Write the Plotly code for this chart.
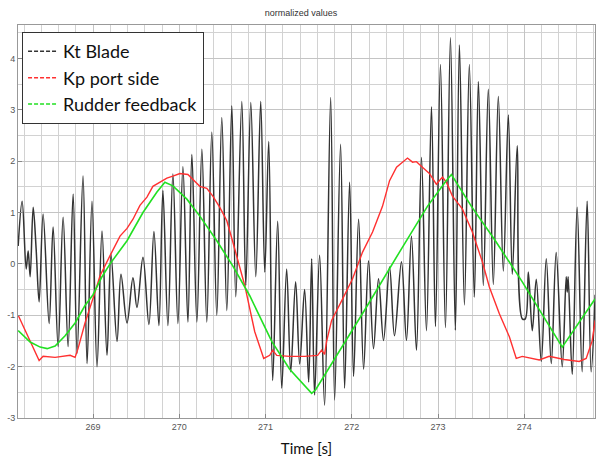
import plotly.graph_objects as go

# Kt Blade: successive turning points of the blade signal (time [s], normalized value)
kt_time = [
    268.132, 268.178, 268.225, 268.248, 268.271, 268.306, 268.340, 268.375, 268.421,
    268.491, 268.537, 268.595, 268.653, 268.711, 268.769, 268.815, 268.884, 268.931,
    268.988, 269.046, 269.104, 269.162, 269.208, 269.278, 269.324, 269.394, 269.463,
    269.509, 269.579, 269.648, 269.706, 269.764, 269.810, 269.868, 269.926, 269.984,
    270.042, 270.100, 270.146, 270.204, 270.262, 270.319, 270.377, 270.435, 270.493,
    270.551, 270.609, 270.655, 270.725, 270.771, 270.829, 270.887, 270.944, 270.991,
    271.037, 271.083, 271.141, 271.188, 271.245, 271.292, 271.349, 271.396, 271.453,
    271.500, 271.535, 271.569, 271.627, 271.685, 271.755, 271.801, 271.870, 271.917,
    271.975, 272.021, 272.079, 272.137, 272.194, 272.252, 272.310, 272.368, 272.438,
    272.495, 272.576, 272.634, 272.692, 272.750, 272.808, 272.866, 272.924, 272.970,
    273.028, 273.086, 273.144, 273.201, 273.248, 273.306, 273.363, 273.421, 273.468,
    273.525, 273.583, 273.641, 273.699, 273.757, 273.815, 273.861, 273.919, 273.977,
    274.012, 274.047, 274.093, 274.139, 274.197, 274.255, 274.313, 274.370, 274.440,
    274.486, 274.498, 274.509, 274.556, 274.613, 274.671, 274.729, 274.775, 274.822,
]
kt_value = [
    0.35, 1.22, -0.10, 0.25, -0.25, 1.10, 0.30, -0.74, 0.97,
    -1.16, 0.72, -1.61, 0.91, -1.61, 1.36, -1.74, 1.71, -1.94,
    1.22, -2.00, 0.64, -1.78, 0.19, -1.51, -0.20, -1.15, -0.27,
    -0.85, 0.13, -1.18, 0.63, -1.20, 1.43, -1.20, 1.75, -1.16,
    1.89, -1.13, 2.13, -1.13, 2.23, -1.13, 2.56, -1.00, 2.85,
    -0.91, 3.08, -0.64, 3.16, -0.42, 3.14, -0.25, 3.16, -0.16,
    2.38, -2.27, 0.83, -2.42, -0.10, -2.10, -0.35, -1.95, -0.50,
    -2.30, 0.10, -2.55, 0.17, -2.75, 3.24, -2.65, 2.33, -2.42,
    1.59, -2.19, 0.87, -2.05, 0.06, -1.65, -0.29, -1.49, -0.06,
    -1.40, 0.04, -1.49, 0.54, -1.68, 2.07, -1.30, 3.06, -1.22,
    3.88, -1.24, 4.40, -1.29, 4.26, -0.80, 3.88, -0.65, 3.55,
    -0.42, 3.40, -0.40, 3.26, -0.14, 2.90, -0.20, 2.30, -1.07,
    -1.07, -0.16, -1.30, -0.30, -1.90, 0.10, -1.94, 0.22, -2.00,
    -0.25, -0.55, -0.25, -2.15, 1.10, -2.10, 1.22, -2.10, -0.60,
]

# Kp port side
kp_time = [
    268.132, 268.375, 268.421, 268.560, 268.734, 268.792, 268.826, 268.907, 269.023,
    269.081, 269.197, 269.313, 269.394, 269.463, 269.544, 269.625, 269.694, 269.775,
    269.856, 269.926, 270.007, 270.100, 270.157, 270.238, 270.319, 270.389, 270.470,
    270.551, 270.620, 270.701, 270.759, 270.875, 270.979, 271.049, 271.083, 271.130,
    271.280, 271.454, 271.604, 271.650, 271.685, 271.708, 271.766, 271.894, 272.009,
    272.125, 272.241, 272.356, 272.438, 272.519, 272.588, 272.646, 272.704, 272.750,
    272.819, 272.900, 272.981, 273.051, 273.097, 273.167, 273.282, 273.398, 273.514,
    273.595, 273.711, 273.827, 273.907, 273.977, 274.174, 274.289, 274.463, 274.637,
    274.718, 274.787, 274.822,
]
kp_value = [
    -1.00, -1.88, -1.80, -1.82, -1.78, -1.82, -1.65, -1.15, -0.55,
    -0.23, 0.16, 0.54, 0.69, 0.87, 1.14, 1.30, 1.51, 1.59,
    1.67, 1.71, 1.76, 1.74, 1.65, 1.51, 1.47, 1.32, 1.10,
    0.84, 0.43, -0.04, -0.42, -1.32, -1.84, -1.78, -1.68, -1.78,
    -1.80, -1.80, -1.78, -1.68, -1.76, -1.51, -1.10, -0.68, -0.29,
    0.23, 0.62, 1.12, 1.62, 1.88, 1.98, 2.06, 1.98, 1.99,
    1.88, 1.76, 1.55, 1.69, 1.59, 1.32, 1.07, 0.62, 0.04,
    -0.45, -0.97, -1.42, -1.84, -1.80, -1.87, -1.80, -1.86, -1.90,
    -1.84, -1.50, -1.10,
]

# Rudder feedback
rudder_time = [
    268.132, 268.271, 268.387, 268.468, 268.560, 268.676, 268.792, 268.907, 269.000,
    269.104, 269.197, 269.394, 269.579, 269.741, 269.833, 269.926, 270.088, 270.238,
    270.435, 270.620, 270.817, 271.072, 271.280, 271.396, 271.535, 271.581, 271.859,
    272.171, 272.553, 272.877, 273.086, 273.155, 273.387, 273.653, 273.977, 274.231,
    274.440, 274.822,
]
rudder_value = [
    -1.30, -1.52, -1.62, -1.65, -1.60, -1.40, -1.15, -0.81, -0.60,
    -0.25, 0.00, 0.45, 1.00, 1.40, 1.59, 1.52, 1.26, 0.93,
    0.45, -0.04, -0.62, -1.51, -2.05, -2.27, -2.52, -2.45, -1.70,
    -0.84, 0.23, 1.12, 1.60, 1.74, 1.12, 0.48, -0.35, -1.05,
    -1.62, -0.68,
]

series_names = ["Kt Blade", "Kp port side", "Rudder feedback"]
series_colors = ["#333333", "#ff3030", "#22e022"]

x_ticks = [269, 270, 271, 272, 273, 274]
y_ticks = [-3, -2, -1, 0, 1, 2, 3, 4]

fig = go.Figure()

fig.add_trace(go.Scatter(
    x=kt_time, y=kt_value, mode="lines", showlegend=False,
    line=dict(color=series_colors[0], width=1.5, shape="spline", smoothing=1.0),
))
fig.add_trace(go.Scatter(
    x=kp_time, y=kp_value, mode="lines", showlegend=False,
    line=dict(color=series_colors[1], width=1.4),
))
fig.add_trace(go.Scatter(
    x=rudder_time, y=rudder_value, mode="lines", showlegend=False,
    line=dict(color=series_colors[2], width=1.6),
))

# legend entries drawn with short-dashed samples
for name, color in zip(series_names, series_colors):
    fig.add_trace(go.Scatter(
        x=[None], y=[None], mode="lines", name=name,
        line=dict(color=color, width=1.5, dash="4px,2px"),
    ))

fig.update_layout(
    width=596, height=457,
    margin=dict(l=18, r=1, t=25, b=39),
    paper_bgcolor="white", plot_bgcolor="white",
    font=dict(family="Liberation Sans, Arial, sans-serif", color="#444"),
    title=dict(text="normalized values", x=0.505, xanchor="center",
               y=1 - 13 / 457, yanchor="middle",
               font=dict(size=9, color="#333")),
    showlegend=True,
    legend=dict(
        x=0.007, y=0.982, xanchor="left", yanchor="top",
        bgcolor="white", bordercolor="#333", borderwidth=1,
        font=dict(family="Lato, Open Sans, sans-serif", size=18, color="#111"),
        itemwidth=30, tracegroupgap=0,
    ),
)

fig.update_xaxes(
    range=[268.13, 274.82],
    tickvals=x_ticks, ticktext=[str(v) for v in x_ticks],
    tickfont=dict(size=9, color="#555"),
    ticks="inside", ticklen=4, tickcolor="#888",
    showgrid=True, gridcolor="#c4c4c4", gridwidth=1,
    minor=dict(dtick=0.2, tick0=269, showgrid=True, gridcolor="#d2d2d2", gridwidth=1),
    showline=True, linecolor="#999", linewidth=1, mirror=True,
    zeroline=False,
    title=dict(text="Time [s]", font=dict(family="Lato, Open Sans, sans-serif", size=15, color="#111"),
               standoff=12),
)
fig.update_yaxes(
    range=[-3.0, 4.65],
    tickvals=y_ticks, ticktext=[str(v) for v in y_ticks],
    tickfont=dict(size=9, color="#555"),
    ticks="inside", ticklen=4, tickcolor="#888",
    showgrid=True, gridcolor="#c4c4c4", gridwidth=1,
    minor=dict(dtick=0.5, tick0=0, showgrid=True, gridcolor="#d2d2d2", gridwidth=1),
    showline=True, linecolor="#999", linewidth=1, mirror=True,
    zeroline=False,
)

fig.write_html("out.html")
